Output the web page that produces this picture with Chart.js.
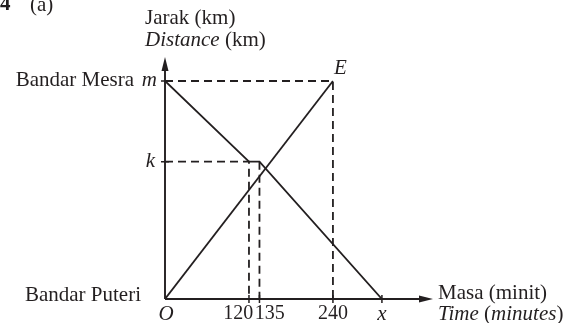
<!DOCTYPE html>
<html>
<head>
<meta charset="utf-8">
<script src="https://cdn.jsdelivr.net/npm/chart.js@4/dist/chart.umd.min.js"></script>
<style>
  html, body { margin: 0; padding: 0; background: #fff; }
  canvas { display: block; }
</style>
</head>
<body>
<canvas id="graph" width="571" height="323"></canvas>
<script>
// ====== Data (the diagram is a sketch) ======
const timeTicks = [0, 120, 135, 240, 310];       // minutes, last one is the unknown x
const timeLabels = ['O', '120', '135', '240', 'x'];
const distTicks = [63, 100];                     // k and m (relative units)
const distLabels = ['k', 'm'];

// journey from Bandar Puteri to E
const outTimes = [0, 240];
const outDist = [0, 100];
// journey from Bandar Mesra (stop between 120 and 135)
const backTimes = [0, 120, 135, 310];
const backDist = [100, 63, 63, 0];

const xMax = 383, yMax = 111;
const INK = '#231f20';
const SERIF = '"Liberation Serif", "Times New Roman", serif';

const pts = (xs, ys) => xs.map((x, i) => ({ x, y: ys[i] }));
const m = distTicks[1], k = distTicks[0];
const tE = outTimes[1];

const solid = (data) => ({
    data, borderColor: INK, borderWidth: 1.8, pointRadius: 0, fill: false, tension: 0
});
const dashed = (data) => ({
    data, borderColor: INK, borderWidth: 1.8, borderDash: [8, 5], pointRadius: 0, fill: false, tension: 0
});

// ====== Axes, arrows, labels ======
const sketchPlugin = {
    id: 'sketch',
    afterDatasetsDraw(chart) {
        const { ctx, scales: { x, y } } = chart;
        const x0 = x.getPixelForValue(0), y0 = y.getPixelForValue(0);
        const xEnd = x.getPixelForValue(xMax), yEnd = y.getPixelForValue(yMax);
        ctx.save();
        ctx.strokeStyle = INK;
        ctx.fillStyle = INK;
        ctx.lineWidth = 1.9;

        // axis lines
        ctx.beginPath();
        ctx.moveTo(x0, y0); ctx.lineTo(x0, yEnd + 8);
        ctx.moveTo(x0, y0); ctx.lineTo(xEnd - 8, y0);
        ctx.stroke();
        // arrow heads
        ctx.beginPath();
        ctx.moveTo(x0, yEnd); ctx.lineTo(x0 - 3.5, yEnd + 14); ctx.lineTo(x0 + 3.5, yEnd + 14); ctx.closePath();
        ctx.fill();
        ctx.beginPath();
        ctx.moveTo(xEnd, y0); ctx.lineTo(xEnd - 14, y0 - 3.5); ctx.lineTo(xEnd - 14, y0 + 3.5); ctx.closePath();
        ctx.fill();

        // tick marks
        ctx.lineWidth = 1.5;
        ctx.beginPath();
        distTicks.forEach(v => {
            const py = y.getPixelForValue(v);
            ctx.moveTo(x0 - 4, py); ctx.lineTo(x0 + 4, py);
        });
        timeTicks.slice(1).forEach(v => {
            const px = x.getPixelForValue(v);
            ctx.moveTo(px, y0 - 4); ctx.lineTo(px, y0 + 4);
        });
        ctx.stroke();

        const text = (str, px, py, align, style, size) => {
            ctx.font = (style || '') + ' ' + (size || 21) + 'px ' + SERIF;
            ctx.textAlign = align;
            ctx.textBaseline = 'middle';
            ctx.fillText(str, px, py);
            return ctx.measureText(str).width;
        };

        // x tick labels
        const ly = y0 + 15;
        const p120 = x.getPixelForValue(timeTicks[1]), p135 = x.getPixelForValue(timeTicks[2]);
        const mid = (p120 + p135) / 2;
        text(timeLabels[0], x0 + 1, ly, 'center', 'italic');
        text(timeLabels[1], mid - 1, ly, 'right', '', 20);
        text(timeLabels[2], mid + 0.5, ly, 'left', '', 20);
        text(timeLabels[3], x.getPixelForValue(timeTicks[3]), ly, 'center', '', 20);
        text(timeLabels[4], x.getPixelForValue(timeTicks[4]), ly, 'center', 'italic');

        // y tick labels
        const pm = y.getPixelForValue(m), pk = y.getPixelForValue(k);
        text(distLabels[1], x0 - 8, pm, 'right', 'italic');
        text('Bandar Mesra', x0 - 31, pm, 'right');
        text(distLabels[0], x0 - 10, pk, 'right', 'italic');
        text('Bandar Puteri', x0 - 24, y0 - 4, 'right');

        // point E
        text('E', x.getPixelForValue(tE) + 1, pm - 12, 'left', 'italic');

        // axis titles
        text('Jarak (km)', x0 - 20, 18, 'left');
        let w = text('Distance', x0 - 20, 40, 'left', 'italic');
        text(' (km)', x0 - 20 + w, 40, 'left');

        const tx = xEnd + 5;
        text('Masa (minit)', tx, y0 - 6, 'left');
        let cx = tx;
        cx += text('Time', cx, y0 + 15, 'left', 'italic');
        cx += text(' (', cx, y0 + 15, 'left');
        cx += text('minutes', cx, y0 + 15, 'left', 'italic');
        text(')', cx, y0 + 15, 'left');

        // question number
        text('4', 0, 5, 'left', 'bold');
        text('(a)', 30, 5, 'left');
        ctx.restore();
    }
};

new Chart(document.getElementById('graph'), {
    type: 'line',
    data: {
        datasets: [
            solid(pts(outTimes, outDist)),
            solid(pts(backTimes, backDist)),
            dashed(pts([0, tE, tE], [m, m, 0])),
            dashed(pts([0, backTimes[1], backTimes[1]], [k, k, 0])),
            dashed(pts([backTimes[2], backTimes[2]], [k, 0]))
        ]
    },
    options: {
        responsive: false,
        animation: false,
        layout: { padding: { left: 165, right: 138, top: 57, bottom: 24 } },
        plugins: { legend: { display: false }, tooltip: { enabled: false } },
        scales: {
            x: { type: 'linear', min: 0, max: xMax, display: false },
            y: { type: 'linear', min: 0, max: yMax, display: false }
        }
    },
    plugins: [sketchPlugin]
});
</script>
</body>
</html>
